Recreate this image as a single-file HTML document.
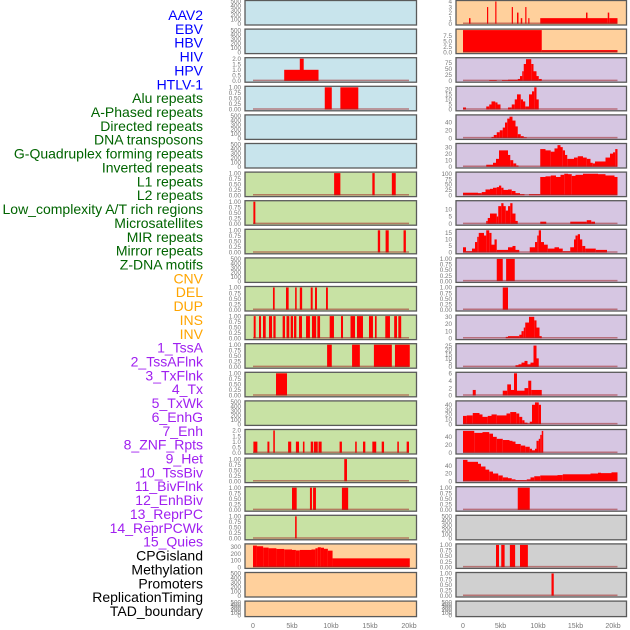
<!DOCTYPE html>
<html><head><meta charset="utf-8"><style>
body{margin:0;background:#fff;width:630px;height:630px;overflow:hidden;font-family:"Liberation Sans",sans-serif}
svg{position:absolute;left:0;top:0}
</style></head><body>
<svg id="c" width="630" height="630" xmlns="http://www.w3.org/2000/svg"></svg>
<script>
const labels=["AAV2","EBV","HBV","HIV","HPV","HTLV-1","Alu repeats","A-Phased repeats","Directed repeats","DNA transposons","G-Quadruplex forming repeats","Inverted repeats","L1 repeats","L2 repeats","Low_complexity A/T rich regions","Microsatellites","MIR repeats","Mirror repeats","Z-DNA motifs","CNV","DEL","DUP","INS","INV","1_TssA","2_TssAFlnk","3_TxFlnk","4_Tx","5_TxWk","6_EnhG","7_Enh","8_ZNF_Rpts","9_Het","10_TssBiv","11_BivFlnk","12_EnhBiv","13_ReprPC","14_ReprPCWk","15_Quies","CPGisland","Methylation","Promoters","ReplicationTiming","TAD_boundary"];
const labelColors=["#0000ff","#0000ff","#0000ff","#0000ff","#0000ff","#0000ff","#006400","#006400","#006400","#006400","#006400","#006400","#006400","#006400","#006400","#006400","#006400","#006400","#006400","#ffa500","#ffa500","#ffa500","#ffa500","#ffa500","#a020f0","#a020f0","#a020f0","#a020f0","#a020f0","#a020f0","#a020f0","#a020f0","#a020f0","#a020f0","#a020f0","#a020f0","#a020f0","#a020f0","#a020f0","#000","#000","#000","#000","#000"];
const xTickLabels=["0","5kb","10kb","15kb","20kb"];
const xTickValues=[0,5,10,15,20];
const T500=["0","100","200","300","400","500"], T1=["0.00","0.25","0.50","0.75","1.00"];
const leftBg=["#c8e4ec","#c8e4ec","#c8e4ec","#c8e4ec","#c8e4ec","#c8e4ec","#c8e2a4","#c8e2a4","#c8e2a4","#c8e2a4","#c8e2a4","#c8e2a4","#c8e2a4","#c8e2a4","#c8e2a4","#c8e2a4","#c8e2a4","#c8e2a4","#c8e2a4","#ffd09c","#ffd09c","#ffd09c"];
const leftYmax=[500,500,2,1,500,500,1,1,1,500,1,1,1,1,500,2,1,1,1,330,500,500];
const leftTicks=[T500,T500,["0.0","0.5","1.0","1.5","2.0"],T1,T500,T500,T1,T1,T1,T500,T1,T1,T1,T1,T500,["0.0","0.5","1.0","1.5","2.0"],T1,T1,T1,["0","100","200","300"],T500,T500];
const leftBars=[[],[],
[[4.0,8.4,1],[6.0,6.5,2]],
[[9.2,10.1,1],[11.2,13.5,1]],
[],[],
[[10.4,11.2,1],[15.3,15.6,1],[17.8,18.3,1]],
[[0.05,0.3,1]],
[[16.0,16.3,1],[17.0,17.4,1],[19.3,19.6,1]],
[],
[[2.56,2.78,1],[4.23,4.57,1],[5.4,5.6,1],[6.0,6.3,1],[7.4,7.65,1],[7.95,8.2,1],[9.36,9.6,1]],
[[0.09,0.34,1],[0.77,1.03,1],[1.28,1.63,1],[2.05,2.44,1],[2.61,2.9,1],[3.8,4.1,1],[4.3,4.65,1],[4.83,5.13,1],[5.26,5.56,1],[5.9,6.28,1],[6.8,7.3,1],[7.56,8.1,1],[8.25,8.6,1],[9.83,10.38,1],[11.28,11.54,1],[12.5,13.08,1],[13.33,14.1,1],[14.87,15.38,1],[15.64,15.85,1],[16.96,17.56,1],[18.1,18.46,1],[18.63,19.0,1]],
[[9.5,10.1,1],[12.7,13.7,1],[15.5,17.8,1],[18.2,20.1,1]],
[[2.95,4.36,1]],
[],
[[0.05,0.56,1],[1.85,2.1,1],[2.6,2.8,2],[4.5,4.9,1],[5.5,5.9,1],[6.4,6.6,1],[7.4,7.7,1],[7.8,8.3,1],[8.4,8.8,1],[11.1,11.4,1],[13.1,13.3,1],[14.1,14.4,1],[15.3,15.8,1],[16.5,16.8,1],[18.5,18.7,1],[19.7,20,1]],
[[11.7,12.05,1]],
[[5.0,5.6,1],[7.3,7.56,1],[7.7,8.07,1],[11.4,12.2,1]],
[[5.4,5.6,1]],
[[0,0.5,320],[0.5,1.3,310],[1.3,2,290],[2,3,280],[3,4,270],[4,5,262],[5,5.5,255],[5.5,6,248],[6,7.5,255],[7.5,8,262],[8,8.3,280],[8.3,8.7,295],[8.7,9.1,288],[9.1,9.6,272],[9.6,10.2,245],[10.2,20.1,130]],
[],[]];
const rightBg=["#ffd09c","#ffd09c","#d6c6e2","#d6c6e2","#d6c6e2","#d6c6e2","#d6c6e2","#d6c6e2","#d6c6e2","#d6c6e2","#d6c6e2","#d6c6e2","#d6c6e2","#d6c6e2","#d6c6e2","#d6c6e2","#d6c6e2","#d6c6e2","#d0d0d0","#d0d0d0","#d0d0d0","#d0d0d0"];
const rightYmax=[4,10,92,22,57,34,103,15,17,1,1,31,26,6,46,56,57,1,500,1,1,500];
const rightTicks=[["0","1","2","3","4"],["0.0","2.5","5.0","7.5"],["0","25","50","75"],["0","5","10","15","20"],["0","20","40"],["0","10","20","30"],["0","25","50","75","100"],["0","5","10"],["0","5","10","15"],T1,T1,["0","10","20","30"],["0","5","10","15","20","25"],["0","2","4","6"],["0","10","20","30","40"],["0","20","40"],["0","20","40"],T1,T500,T1,T1,T500];
const rightSteps=[
[[0.8,1],[1.0,0],[3.2,3],[3.35,0],[4.3,4],[4.45,0],[6.5,3],[6.65,0],[7.2,2],[7.4,0],[7.7,1],[7.9,0],[8.3,3],[8.45,0],[8.7,1],[8.85,0],[10.3,1],[16.4,2],[16.6,1],[19.3,2],[19.5,1],[20.6,null]],
[[0,10],[10.5,1],[20.6,null]],
[[3.5,3],[4.5,0],[5.2,3],[6.0,5],[7.0,5],[7.3,8],[7.6,20],[7.9,40],[8.1,70],[8.4,90],[9.1,70],[9.4,40],[9.8,20],[10.1,8],[10.5,null]],
[[0,2],[0.4,0],[3.1,3],[3.5,5],[3.8,8],[4.3,7],[4.6,5],[5.0,0],[6.0,2],[6.5,5],[6.9,10],[7.2,15],[7.7,10],[8.0,8],[8.3,3],[8.8,15],[9.2,18],[9.5,22],[9.8,10],[10.1,null]],
[[3.8,3],[4.1,8],[4.5,15],[4.9,20],[5.3,27],[5.6,40],[5.9,50],[6.2,55],[6.6,45],[7.0,30],[7.3,10],[7.7,5],[8.1,2],[8.5,null]],
[[3.1,3],[4.0,6],[4.4,12],[4.8,25],[6.0,18],[6.3,10],[6.7,5],[7.1,2],[7.4,0],[10.3,27],[11.0,25],[11.7,23],[12.2,28],[12.6,33],[13.0,30],[13.3,25],[13.6,18],[13.9,12],[14.8,14],[15.3,16],[16.0,14],[16.5,12],[17.0,6],[17.3,5],[17.6,8],[18.6,8],[19.0,14],[19.6,20],[20.0,22],[20.3,27],[20.6,null]],
[[0,12],[2.0,10],[2.5,15],[3.0,27],[3.6,30],[4.0,35],[4.5,38],[4.8,45],[5.1,35],[5.4,25],[6.0,27],[6.5,20],[7.0,10],[7.6,5],[8.2,0],[8.8,5],[10.0,5],[10.3,85],[11.0,88],[11.7,92],[12.4,85],[13.0,95],[13.5,100],[14.0,98],[14.5,90],[15.0,95],[16.0,100],[18.0,98],[19.0,92],[20.2,85],[20.6,null]],
[[3.1,2],[3.3,4],[3.6,7],[4.5,5],[4.7,12],[5.1,14],[5.4,12],[5.7,9],[6.0,12],[6.3,14],[6.6,7],[7.0,2],[7.3,0],[10.3,1.5],[11.1,0],[14.3,1.5],[16.5,2.5],[17.1,1.5],[17.6,null]],
[[0,4],[0.4,1],[1.2,3],[1.6,8],[1.9,12],[2.1,15],[2.8,13],[3.1,17],[3.5,15],[3.8,6],[4.2,10],[4.5,2],[6.0,4],[6.6,5],[7.0,2],[7.5,0],[8.9,4],[9.6,8],[9.9,13],[10.1,17],[10.4,8],[10.8,6],[11.3,3],[12.2,4],[12.8,3],[13.3,1],[14.3,4],[14.8,10],[15.0,13],[15.3,14],[15.6,10],[15.9,5],[16.3,3],[17.7,2],[19.2,null]],
[[4.5,1],[5.3,0],[5.75,1],[6.9,null]],
[[5.3,1],[6.0,null]],
[[5.7,2],[6.0,3],[7.5,5],[7.8,10],[8.1,15],[8.3,22],[8.8,30],[9.5,25],[9.8,15],[10.2,3],[10.5,null]],
[[7.0,2],[7.4,3],[7.8,5],[8.2,7],[8.6,3],[9.0,5],[9.4,25],[9.8,10],[10.1,null]],
[[1.3,1.5],[1.7,0],[5.3,1.3],[5.9,3],[6.4,1.5],[6.8,6],[7.2,1.3],[8.2,2],[8.7,4],[9.1,1.5],[10.5,null]],
[[0,17],[0.5,18],[1.3,23],[2.2,20],[2.6,15],[3.3,17],[3.8,20],[4.5,18],[5.8,22],[6.3,25],[7.1,22],[7.5,15],[7.9,8],[8.2,3],[8.6,1],[8.9,5],[9.2,40],[9.6,45],[10.1,40],[10.4,null]],
[[0,55],[1.5,50],[2.6,52],[3.5,48],[4.0,40],[4.5,35],[5.3,32],[6.2,30],[6.6,28],[7.0,22],[7.7,18],[8.3,15],[8.9,10],[9.2,6],[9.6,10],[9.8,30],[10.1,35],[10.3,45],[10.5,55],[10.7,null]],
[[0,55],[0.6,50],[2.0,45],[2.4,38],[3.0,30],[3.5,25],[4.0,20],[4.7,15],[5.3,10],[6.0,8],[6.5,5],[7.0,3],[8.5,5],[9.0,10],[9.5,13],[10.3,15],[12.6,16],[13.3,18],[17.0,20],[18.0,22],[18.4,21],[19.0,21],[19.8,23],[20.6,null]],
[[7.3,1],[8.9,null]],
[],
[[4.4,1],[4.8,0],[5.1,1],[5.55,0],[6.25,1],[6.95,0],[7.6,1],[8.65,null]],
[[11.8,1],[12.1,null]],
[]];
</script>
<script>
const svg=document.getElementById('c');
const NS="http://www.w3.org/2000/svg";
function mk(tag,attrs,parent){const e=document.createElementNS(NS,tag);for(const k in attrs)e.setAttribute(k,attrs[k]);(parent||svg).appendChild(e);return e;}
const PITCH=28.6;
function rowTop(i){return i*PITCH+0.5;}
function rowH(i){return i===21?15.5:24.5;}
const cols=[{px:245,pw:171.5,x0:253,x1:409,k1:20,tx:241,bg:leftBg,ym:leftYmax,tk:leftTicks,side:'left'},
            {px:456,pw:170.5,x0:463,x1:613,k1:20,tx:452,bg:rightBg,ym:rightYmax,tk:rightTicks,side:'right'}];
function xs(c,kb){return c.x0+(c.x1-c.x0)*kb/c.k1;}
labels.forEach((t,i)=>{
  const e=mk('text',{x:203,y:15+i*13.86+5,'text-anchor':'end','font-size':'14',fill:labelColors[i],'font-family':'Liberation Sans, sans-serif'});
  e.textContent=t;
  
  
});
cols.forEach((c,ci)=>{
  for(let i=0;i<22;i++){
    const top=rowTop(i),h=rowH(i);
    const g=mk('g',{});
    
    
    mk('rect',{x:c.px,y:top,width:c.pw,height:h,fill:c.bg[i],stroke:'#5a5a5a','stroke-width':1.3},g);
    const yb=top+h-1.3, yt=top+1;
    const ys=v=>yb-(yb-yt)*v/c.ym[i];
    c.tk[i].forEach(t=>{
      const v=parseFloat(t);
      const e=mk('text',{x:c.tx,y:ys(v)+2.2,'text-anchor':'end','font-size':'6.3',fill:'#777'},g);
      e.textContent=t;
      
      
    });
    let ivs=[];
    if(ci===0){ivs=leftBars[i];}
    else{const s=rightSteps[i];for(let j=0;j<s.length-1;j++){if(s[j][1])ivs.push([s[j][0],s[j+1][0],s[j][1]]);}}
    const hasData=(ci===0?leftBars[i]:rightSteps[i]).length>0;
    ivs.forEach(d=>{
      const x1=xs(c,d[0]),x2=xs(c,d[1]);
      if(x2<=x1)return;
      const r=mk('rect',{x:x1,y:ys(d[2]),width:Math.max(x2-x1,1.2),height:yb-ys(d[2]),fill:'#ff0000'},g);
      
      
    });
    if(hasData){
      const endKb=ci===0?20:20.6;
      mk('line',{x1:xs(c,0),x2:xs(c,endKb),y1:yb-0.5,y2:yb-0.5,stroke:'rgba(160,40,40,0.55)','stroke-width':1.5},g);
    }
  }
  xTickValues.forEach((v,j)=>{
    const e=mk('text',{x:xs(c,v),y:628,'text-anchor':'middle','font-size':'7',fill:'#777'});
    e.textContent=xTickLabels[j];
    
    
  });
});
</script>
</body></html>
